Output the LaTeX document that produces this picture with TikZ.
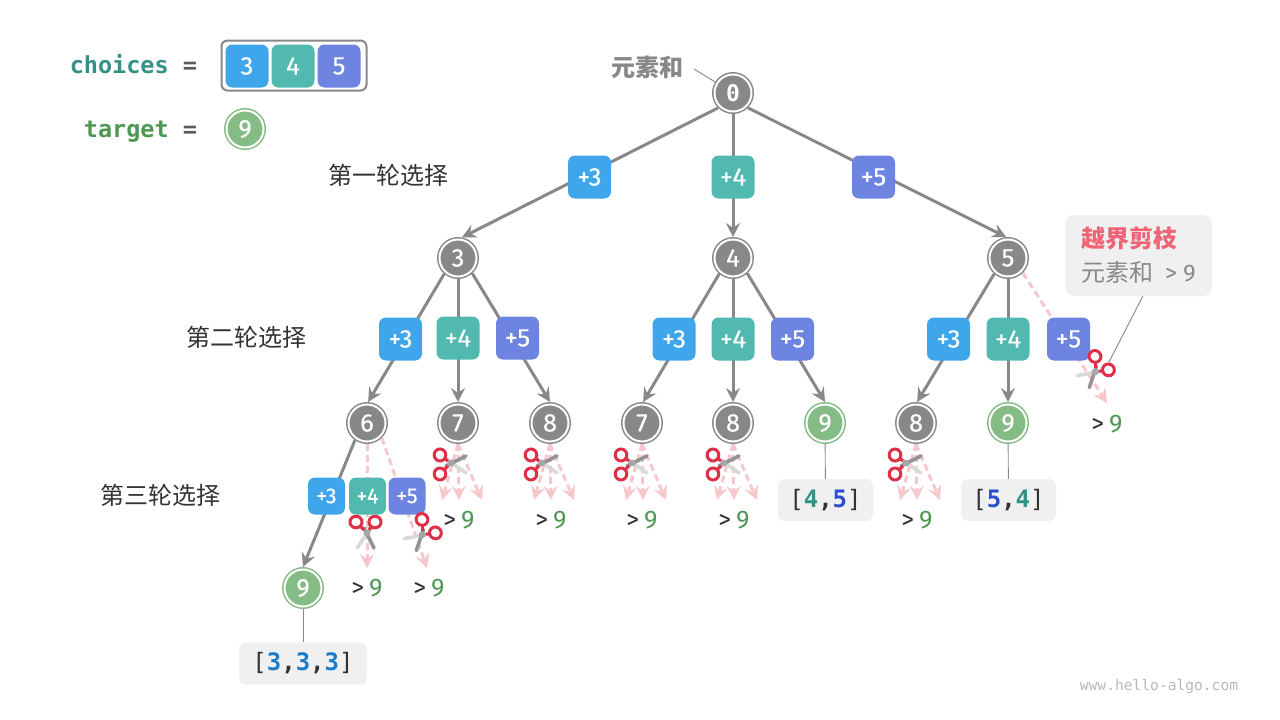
\documentclass[tikz,border=0pt]{standalone}
\usepackage{fontspec}
\setmainfont{Noto Sans CJK SC}
\newfontfamily\numfont[FakeBold=0.3]{Fira Sans}
\newfontfamily\overfont{Fira Sans}
\newfontfamily\codefont{DejaVu Sans Mono}
\usepackage{xcolor}
\definecolor{Ink}{RGB}{51,51,51}
\definecolor{Edge}{RGB}{136,136,136}
\definecolor{Pink}{RGB}{246,200,204}
\definecolor{Blue}{RGB}{63,166,236}
\definecolor{Teal}{RGB}{82,185,176}
\definecolor{Violet}{RGB}{109,133,224}
\definecolor{Leaf}{RGB}{133,187,133}
\definecolor{LeafText}{RGB}{78,152,84}
\definecolor{Panel}{RGB}{240,240,240}
\definecolor{Rose}{RGB}{238,100,118}
\definecolor{Crimson}{RGB}{224,48,72}
\definecolor{CodeTeal}{RGB}{52,145,133}
\definecolor{CodeBlue}{RGB}{24,124,204}
\definecolor{CodeNavy}{RGB}{42,78,204}
\usetikzlibrary{arrows.meta, backgrounds}

\tikzset{
	pick/.style={rectangle, rounded corners=7pt, minimum size=43pt, inner sep=0pt, text=white, font=\numfont\fontsize{25.5}{28}\selectfont},
	picksmall/.style={pick, minimum size=37pt, font=\numfont\fontsize{21.5}{24}\selectfont},
	vert/.style={circle, minimum size=37pt, inner sep=0pt, outer sep=2.5pt, draw=#1, fill=#1, line width=1.5pt, double=white, double distance=2pt, text=white, font=\numfont\fontsize{25.5}{28}\selectfont},
	vert/.default=Edge,
	edge/.style={draw=Edge, line width=3pt, -{Stealth[length=14pt, width=14pt, inset=5pt]}},
	pruned/.style={draw=Pink, line width=3pt, dash pattern=on 7pt off 4pt, -{Stealth[length=14pt, width=14pt, inset=5pt]}},
	thin line/.style={draw=Edge, line width=0.9pt},
	result/.style={rectangle, rounded corners=7pt, fill=Panel, minimum height=42pt, inner sep=0pt, text=Ink, font=\codefont\fontsize{24}{28}\selectfont},
	over/.style={inner sep=0pt, font=\overfont\fontsize{25.5}{30}\selectfont},
	round title/.style={inner sep=0pt, text=Ink, font=\fontsize{24}{28}\selectfont},
	legend text/.style={inner sep=0pt, font=\codefont\bfseries\fontsize{23.5}{28}\selectfont},
	scissor/.pic={
		\draw[line width=3.6pt, draw=black!15, line cap=round] (-5,-4) -- (15,10);
		\draw[line width=3.6pt, draw=black!42, line cap=round] (-5,3) -- (15,-7);
		\draw[line width=3pt, draw=Crimson] (-7,-5) -- (-3,-2);
		\draw[line width=3pt, draw=Crimson] (-7,7) -- (-3,3);
		\draw[line width=3pt, draw=Crimson, fill=white] (-11,-8) ellipse (5.8 and 6);
		\draw[line width=3pt, draw=Crimson, fill=white] (-11,11) ellipse (5.8 and 6);
		\fill[black!35] (0,0) circle (3.4);
	}
}

% Three cut branches below a sum
\newcommand{\prunefan}[2]{
	\coordinate (#1l) at (#2-16,500);
	\coordinate (#1m) at (#2+1,500);
	\coordinate (#1r) at (#2+24,500);
	\draw[pruned] (#1.south) -- (#1l);
	\draw[pruned] (#1.south) -- (#1m);
	\draw[pruned] (#1.south) -- (#1r);
}
\newcommand{\overnine}{{\color{Ink}>}\hspace{5pt}{\color{LeafText}9}}

\begin{document}
\begin{tikzpicture}[x=1pt, y=-1pt]

		\useasboundingbox (0,0) rectangle (1280,720);

		% Legend
		\node[legend text, anchor=base east, text=CodeTeal] (choices) at (169,73) {choices};
		\node[legend text, anchor=base, text=Ink!80] (choicesEq) at (190,73) {=};
		\node[legend text, anchor=base east, text=LeafText] (target) at (169,137) {target};
		\node[legend text, anchor=base, text=Ink!80] (targetEq) at (190,137) {=};
		\node[rectangle, rounded corners=6pt, draw=Edge, line width=2pt, minimum width=145pt, minimum height=50pt, inner sep=0pt] (frame) at (294,65.5) {};
		\node[pick, fill=Blue] (arr3) at (247,66) {3};
		\node[pick, fill=Teal] (arr4) at (293,66) {4};
		\node[pick, fill=Violet] (arr5) at (339,66) {5};
		\node[vert=Leaf] (goal) at (245,129) {9};

		% Round titles
		\node[round title] (roundA) at (388,175) {第一轮选择};
		\node[round title] (roundB) at (246,337) {第二轮选择};
		\node[round title] (roundC) at (160,495) {第三轮选择};

		% Sums
		\node[vert, font=\codefont\bfseries\fontsize{23}{26}\selectfont] (root) at (733,93) {0};
		\node[vert] (sum3) at (458,258) {3};
		\node[vert] (sum4) at (733,258) {4};
		\node[vert] (sum5) at (1008,258) {5};
		\node[vert] (sum6) at (367,423) {6};
		\node[vert] (sum7a) at (458,423) {7};
		\node[vert] (sum8a) at (550,423) {8};
		\node[vert] (sum7b) at (642,423) {7};
		\node[vert] (sum8b) at (733,423) {8};
		\node[vert=Leaf] (sum9a) at (825,423) {9};
		\node[vert] (sum8c) at (916,423) {8};
		\node[vert=Leaf] (sum9b) at (1008,423) {9};
		\node[vert=Leaf] (sum9c) at (303,588) {9};

		% Choices
		\node[pick, fill=Blue] (pickA3) at (589.5,177) {+3};
		\node[pick, fill=Teal] (pickA4) at (733,177) {+4};
		\node[pick, fill=Violet] (pickA5) at (873.5,177) {+5};

		\node[pick, fill=Blue] (pickB3) at (400.5,339) {+3};
		\node[pick, fill=Teal] (pickB4) at (458,338) {+4};
		\node[pick, fill=Violet] (pickB5) at (517.5,338) {+5};

		\node[pick, fill=Blue] (pickC3) at (674,339) {+3};
		\node[pick, fill=Teal] (pickC4) at (733,339) {+4};
		\node[pick, fill=Violet] (pickC5) at (792.5,339) {+5};

		\node[pick, fill=Blue] (pickD3) at (948.5,339) {+3};
		\node[pick, fill=Teal] (pickD4) at (1008,339) {+4};
		\node[pick, fill=Violet] (pickD5) at (1068.5,339) {+5};

		\node[picksmall, fill=Blue] (pickE3) at (326.5,496) {+3};
		\node[picksmall, fill=Teal] (pickE4) at (367.5,496) {+4};
		\node[picksmall, fill=Violet] (pickE5) at (407,496) {+5};

		% Results
		\node[result, minimum width=128pt] (resA) at (303,663.5) {[{\bfseries\color{CodeBlue}3}{\bfseries,}{\bfseries\color{CodeBlue}3}{\bfseries,}{\bfseries\color{CodeBlue}3}]};
		\node[result, minimum width=95pt] (resB) at (825.5,500) {[{\bfseries\color{CodeTeal}4}{\bfseries,}{\bfseries\color{CodeNavy}5}]};
		\node[result, minimum width=95pt] (resC) at (1008.5,500) {[{\bfseries\color{CodeNavy}5}{\bfseries,}{\bfseries\color{CodeTeal}4}]};

		% Notes
		\node[inner sep=0pt, text=Edge, font=\bfseries\fontsize{24}{28}\selectfont] (sumNote) at (647,67) {元素和};
		\node[rectangle, rounded corners=9pt, fill=Panel, minimum width=147pt, minimum height=81pt, inner sep=0pt, align=left, text=Edge, font=\fontsize{24}{34}\selectfont] (cutNote) at (1138.5,255.5) {{\bfseries\color{Rose}越界剪枝}\\元素和\hspace{12pt}{\overfont >\hspace{6pt}9}};

		% Over limit
		\node[over] (overA) at (459,520) {\overnine};
		\node[over] (overB) at (551,520) {\overnine};
		\node[over] (overC) at (642,520) {\overnine};
		\node[over] (overD) at (734,520) {\overnine};
		\node[over] (overE) at (917,520) {\overnine};
		\node[over] (overF) at (367,588) {\overnine};
		\node[over] (overG) at (429,588) {\overnine};
		\node[over] (overH) at (1107,424) {\overnine};

		\node[inner sep=0pt, text=black!28, font=\codefont\fontsize{14.6}{18}\selectfont] (mark) at (1159,686) {www.hello-algo.com};

		\begin{scope}[on background layer]
			% Level one
			\draw[edge] (root.-135) -- (sum3.79);
			\draw[edge] (root) -- (sum4);
			\draw[edge] (root.-45) -- (sum5.95);

			% Level two
			\draw[edge] (sum3.-131) -- (sum6.87);
			\draw[edge] (sum3) -- (sum7a);
			\draw[edge] (sum3.-47) -- (sum8a.north);

			\draw[edge] (sum4.-131) -- (sum7b.87);
			\draw[edge] (sum4) -- (sum8b);
			\draw[edge] (sum4.-47) -- (sum9a.north);

			\draw[edge] (sum5.-131) -- (sum8c.87);
			\draw[edge] (sum5) -- (sum9b);

			% Level three
			\draw[edge] (sum6.-125) -- (sum9c.north);

			% Cut branches
			\coordinate (cutD) at (1107,403);
			\coordinate (cutE) at (367,568);
			\coordinate (cutF) at (427,568);
			\draw[pruned] (sum5.-45) -- (cutD);
			\draw[pruned] (sum6) -- (cutE);
			\draw[pruned] (sum6.-45) -- (cutF);
			\prunefan{sum7a}{458}
			\prunefan{sum8a}{550}
			\prunefan{sum7b}{642}
			\prunefan{sum8b}{733}
			\prunefan{sum8c}{916}

			% Thin lines
			\coordinate (noteEnd) at (694,69);
			\coordinate (cutEnd) at (1109,362);
			\draw[thin line] (noteEnd) -- (root);
			\draw[thin line] (cutNote.-84) -- (cutEnd);
			\draw[thin line] (sum9c) -- (resA);
			\draw[thin line] (sum9a) -- (resB);
			\draw[thin line] (sum9b) -- (resC);
		\end{scope}

		% Scissors
		\pic (cutA) at (451,463) {scissor};
		\pic (cutB) at (542,463) {scissor};
		\pic (cutC) at (632,463) {scissor};
		\pic (cutG) at (724,463) {scissor};
		\pic (cutH) at (906,463) {scissor};
		\pic[rotate=-90] (cutI) at (367,533) {scissor};
		\pic[rotate=-135] (cutJ) at (422,535) {scissor};
		\pic[rotate=-135] (cutK) at (1095,372) {scissor};

	\end{tikzpicture}
\end{document}
